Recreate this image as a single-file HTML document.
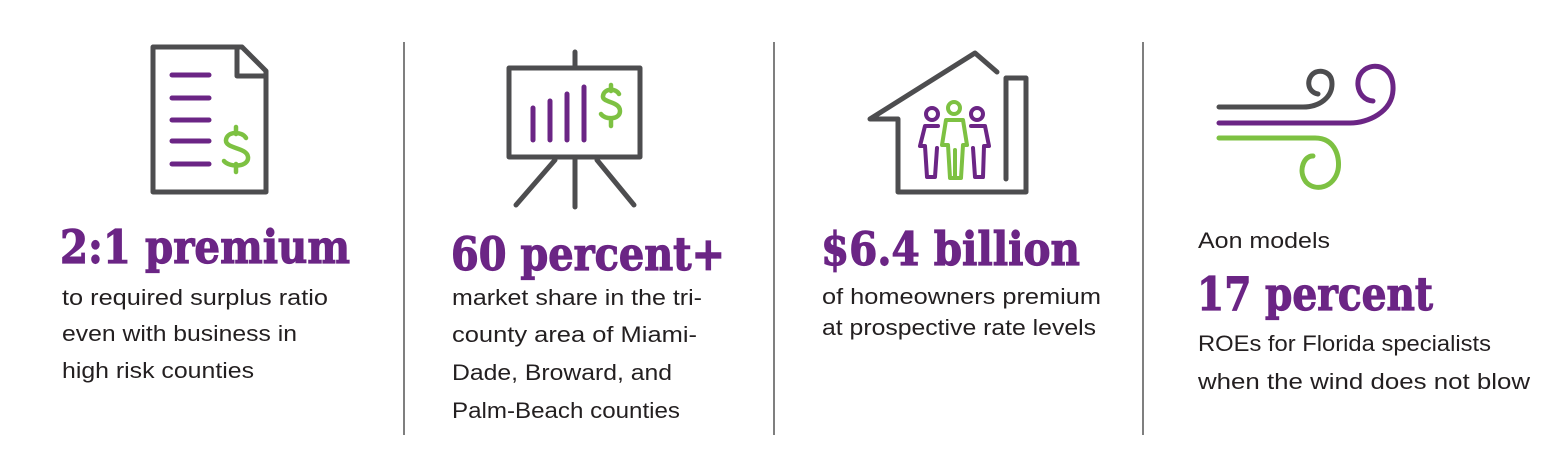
<!DOCTYPE html>
<html><head><meta charset="utf-8"><style>
html,body{margin:0;padding:0;background:#fff;width:1566px;height:455px;overflow:hidden}
.h{font-family:"DejaVu Serif","Liberation Serif",serif;font-weight:bold;fill:#6b2585;stroke:#6b2585;stroke-width:1.2px;font-size:46px}
.b{font-family:"Liberation Sans","DejaVu Sans",sans-serif;fill:#231f20;font-size:22px}
</style></head><body>
<svg width="1566" height="455" viewBox="0 0 1566 455" xmlns="http://www.w3.org/2000/svg">
<g stroke="#555" stroke-width="1.5"><line x1="404" y1="42" x2="404" y2="435"/><line x1="774" y1="42" x2="774" y2="435"/><line x1="1143" y1="42" x2="1143" y2="435"/></g>
<g fill="none" stroke-linecap="round" stroke-linejoin="round">
<path d="M153 47 H242 L266 71 V192 H153 Z M237 48 V76 H265" stroke="#4d4d4f" stroke-width="5"/>
<g stroke="#6b2585" stroke-width="5"><line x1="172" y1="75" x2="209" y2="75"/><line x1="172" y1="98" x2="209" y2="98"/><line x1="172" y1="120" x2="209" y2="120"/><line x1="172" y1="141" x2="209" y2="141"/><line x1="172" y1="164" x2="209" y2="164"/></g>
<path d="M246 138 C242 131 227 131 226 140 C225 149 247 147 248 157 C249 167 230 168 224 161 M236 127 V134 M236 164 V172" stroke="#7dc142" stroke-width="4.5"/>
<path d="M509 68 H640 V157 H509 Z M575 52 V68 M575 157 V207 M555 160 L516 205 M597 160 L634 205" stroke="#4d4d4f" stroke-width="5"/>
<g stroke="#6b2585" stroke-width="5"><line x1="533" y1="108" x2="533" y2="140"/><line x1="550" y1="101" x2="550" y2="140"/><line x1="567" y1="94" x2="567" y2="140"/><line x1="584" y1="87" x2="584" y2="140"/></g>
<path d="M619 94 C616 88 604 88 603 96 C602 103 620 101 620 111 C620 120 605 120 601 114 M611 85 V91 M611 119 V126" stroke="#7dc142" stroke-width="4.5"/>
<path d="M997 72 L975 53 L870 119 H898 V192 H1026 V78 H1006 V179" stroke="#4d4d4f" stroke-width="5"/>
<g stroke="#6b2585" stroke-width="4"><circle cx="932" cy="114" r="6"/><circle cx="977" cy="114" r="6"/>
<path d="M938 126 H925 L920 146 H925 L927 177 H935 L937 148"/><path d="M971 126 H985 L989 146 H984 L983 177 H975 L973 148"/></g>
<g stroke="#7dc142" stroke-width="4"><circle cx="954" cy="108" r="6"/><path d="M946 120 H963 L967 145 H963 L961 178 H950 L948 145 H942 Z M955 150 V178"/></g>
<path d="M1219 107 H1303 C1320 107 1332 97 1332 84 C1332 72 1322 70 1316 72 C1306 76 1306 92 1318 94" stroke="#4d4d4f" stroke-width="5"/>
<path d="M1219 123 H1350 C1368 123 1392 112 1393 90 C1394 70 1380 64 1370 67 C1352 72 1355 100 1373 101" stroke="#6b2585" stroke-width="5"/>
<path d="M1219 138 H1315 C1337 138 1340 160 1338 170 C1334 188 1315 192 1306 182 C1297 170 1305 155 1313 156" stroke="#7dc142" stroke-width="5"/>
</g>
<text class="h" x="60" y="263" textLength="290" lengthAdjust="spacingAndGlyphs">2:1 premium</text>
<text class="b" x="62" y="305" textLength="266" lengthAdjust="spacingAndGlyphs">to required surplus ratio</text>
<text class="b" x="62" y="341" textLength="235" lengthAdjust="spacingAndGlyphs">even with business in</text>
<text class="b" x="62" y="378" textLength="192" lengthAdjust="spacingAndGlyphs">high risk counties</text>
<text class="h" x="451" y="270" textLength="274" lengthAdjust="spacingAndGlyphs">60 percent+</text>
<text class="b" x="452" y="305" textLength="250" lengthAdjust="spacingAndGlyphs">market share in the tri-</text>
<text class="b" x="452" y="342" textLength="245" lengthAdjust="spacingAndGlyphs">county area of Miami-</text>
<text class="b" x="452" y="380" textLength="220" lengthAdjust="spacingAndGlyphs">Dade, Broward, and</text>
<text class="b" x="452" y="418" textLength="228" lengthAdjust="spacingAndGlyphs">Palm-Beach counties</text>
<text class="h" x="821" y="265" textLength="259" lengthAdjust="spacingAndGlyphs">$6.4 billion</text>
<text class="b" x="822" y="304" textLength="279" lengthAdjust="spacingAndGlyphs">of homeowners premium</text>
<text class="b" x="822" y="335" textLength="274" lengthAdjust="spacingAndGlyphs">at prospective rate levels</text>
<text class="b" x="1198" y="248" textLength="132" lengthAdjust="spacingAndGlyphs">Aon models</text>
<text class="h" x="1197" y="310" textLength="236" lengthAdjust="spacingAndGlyphs">17 percent</text>
<text class="b" x="1198" y="351" textLength="293" lengthAdjust="spacingAndGlyphs">ROEs for Florida specialists</text>
<text class="b" x="1198" y="389" textLength="332" lengthAdjust="spacingAndGlyphs">when the wind does not blow</text>
</svg>
</body></html>
